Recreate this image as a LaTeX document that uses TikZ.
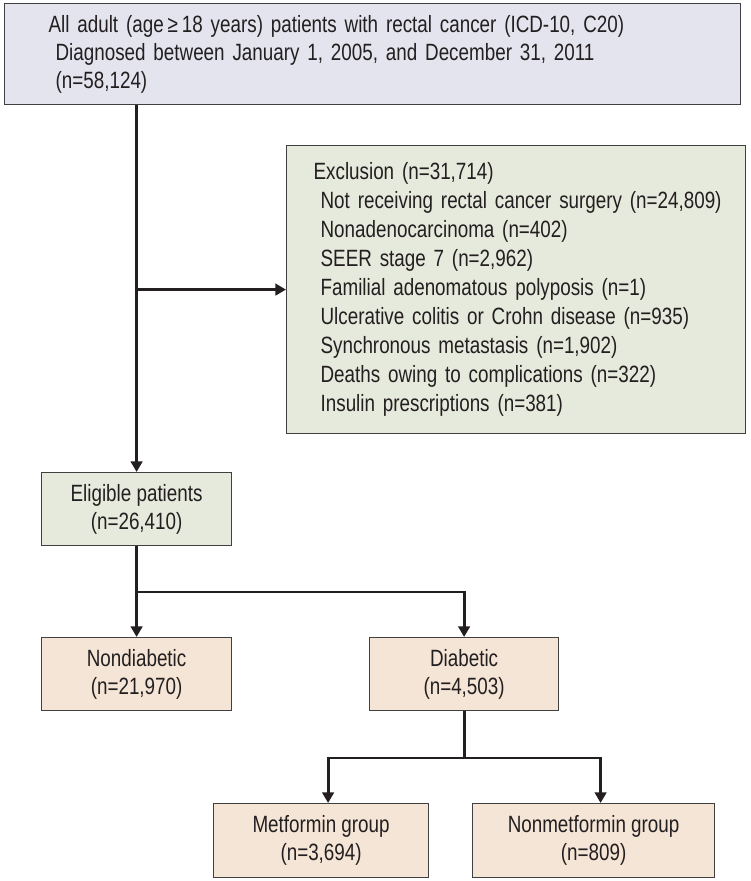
\documentclass[tikz,border=0pt]{standalone}
\usepackage{fontspec}
\setmainfont{Liberation Sans}[FakeStretch=0.8]
\usetikzlibrary{arrows.meta}

\definecolor{topfill}{RGB}{227,228,237}
\definecolor{greenfill}{RGB}{230,234,220}
\definecolor{peachfill}{RGB}{245,229,214}
\definecolor{boxline}{RGB}{64,64,64}
\definecolor{ink}{RGB}{35,31,32}

\begin{document}
\begin{tikzpicture}[x=0.02cm,y=-0.02cm,
  box/.style={draw=boxline,line width=0.7pt,inner sep=0pt,anchor=north west,
    text=ink,font=\fontsize{13.4}{16}\selectfont},
  topbox/.style={box,fill=topfill},
  greenbox/.style={box,fill=greenfill},
  peachbox/.style={box,fill=peachfill,align=center},
  link/.style={line width=1.6pt,ink},
  arr/.style={link,-{Triangle[length=6pt,width=6.5pt]}}
]
\useasboundingbox (0,0) rectangle (750,881);

% boxes
\node[topbox,minimum width=14.72cm,minimum height=2.02cm,inner xsep=0.88cm,
  text width=12.96cm,align=left] (all) at (4,3)
  {All adult (age\,≥\,18 years) patients with rectal cancer (ICD-10, C20)\\
   \hspace*{4pt}Diagnosed between January 1, 2005, and December 31, 2011\\
   \hspace*{4pt}(n=58,124)};
\node[greenbox,minimum width=9.18cm,minimum height=5.76cm,inner xsep=0.54cm,
  text width=8.1cm,align=left,font=\fontsize{13.4}{16.5}\selectfont] (excl) at (286,145)
  {Exclusion (n=31,714)\\
   \mbox{\hspace*{4pt}Not receiving rectal cancer surgery (n=24,809)}\\
   \hspace*{4pt}Nonadenocarcinoma (n=402)\\
   \hspace*{4pt}SEER stage 7 (n=2,962)\\
   \hspace*{4pt}Familial adenomatous polyposis (n=1)\\
   \hspace*{4pt}Ulcerative colitis or Crohn disease (n=935)\\
   \hspace*{4pt}Synchronous metastasis (n=1,902)\\
   \hspace*{4pt}Deaths owing to complications (n=322)\\
   \hspace*{4pt}Insulin prescriptions (n=381)};
\node[greenbox,align=center,minimum width=3.8cm,minimum height=1.46cm] (elig) at (41,472)
  {Eligible patients\\(n=26,410)};
\node[peachbox,minimum width=3.8cm,minimum height=1.46cm] (nondiab) at (41,637)
  {Nondiabetic\\(n=21,970)};
\node[peachbox,minimum width=3.78cm,minimum height=1.46cm] (diab) at (369,637)
  {Diabetic\\(n=4,503)};
\node[peachbox,minimum width=4.3cm,minimum height=1.48cm] (met) at (213,803)
  {Metformin group\\(n=3,694)};
\node[peachbox,minimum width=4.84cm,minimum height=1.48cm] (nonmet) at (472,803)
  {Nonmetformin group\\(n=809)};

% connectors
\coordinate (split1) at (136,592);
\coordinate (split2) at (463,758);
\draw[arr] (elig.north |- all.south) -- (elig.north);
\draw[arr] (elig.north |- excl.west) -- (excl.west);
\draw[arr] (elig.south) -- (nondiab.north);
\draw[arr] (split1) -| (diab.north);
\draw[link] (diab.south |- split2) -- (diab.south);
\draw[arr] (diab.south |- split2) -| ([xshift=0.14cm]met.north);
\draw[arr] (diab.south |- split2) -| ([xshift=0.14cm]nonmet.north);
\end{tikzpicture}
\end{document}
